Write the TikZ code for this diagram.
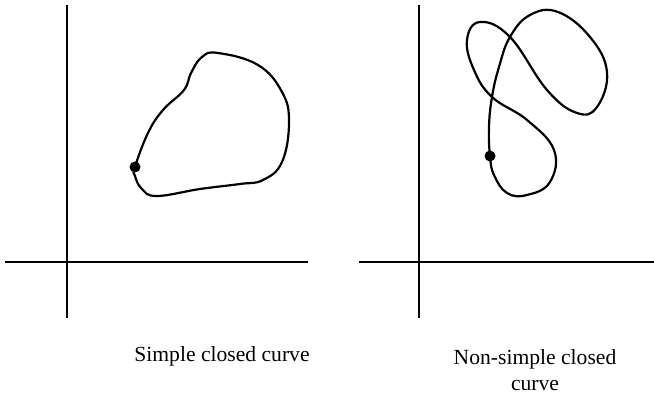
\documentclass[tikz,border=0pt]{standalone}
\usepackage{fontspec}
\setmainfont{Liberation Serif}
\tikzset{
  axis/.style={line width=1.1pt},
  curveline/.style={line width=1.1pt, line join=round},
  startdot/.style={circle, fill=black, inner sep=0pt, minimum size=5.5pt},
  caption/.style={font=\fontsize{10.8}{13}\selectfont, align=center},
}
\begin{document}
\begin{tikzpicture}[x=0.5pt, y=-0.5pt]
\useasboundingbox (0,0) rectangle (654,400);

% left panel: simple closed curve
\draw[axis] (67,5) -- (67,318);
\draw[axis] (5,262) -- (308,262);
\draw[curveline] plot[smooth cycle, tension=0.7] coordinates {
  (135,167) (148,133) (163,110) (184,90) (191,73) (202,57) (218,53)
  (258,65) (282,92) (289,122) (282,162) (263,180) (240,184)
  (200,189) (157,196) (142,189) (135,176)};
\node[startdot] (dotA) at (135,167) {};

% right panel: non-simple closed curve
\draw[axis] (419,5) -- (419,318);
\draw[axis] (359,262) -- (654,262);
\draw[curveline] plot[smooth cycle, tension=0.7] coordinates {
  (490,156) (489,127) (492,97) (499,67) (510,37) (530,15) (558,12)
  (590,37) (607,72) (597,107) (577,113) (547,90) (510,37)
  (480,22) (467,40) (474,70) (492,97) (527,120) (554,150)
  (550,182) (527,195) (507,193) (494,175)};
\node[startdot] (dotB) at (490,156) {};

% captions
\node[caption] (capA) at (222,356) {Simple closed curve};
\node[caption, anchor=north] (capB) at (535,342) {Non-simple closed\\curve};
\end{tikzpicture}
\end{document}
